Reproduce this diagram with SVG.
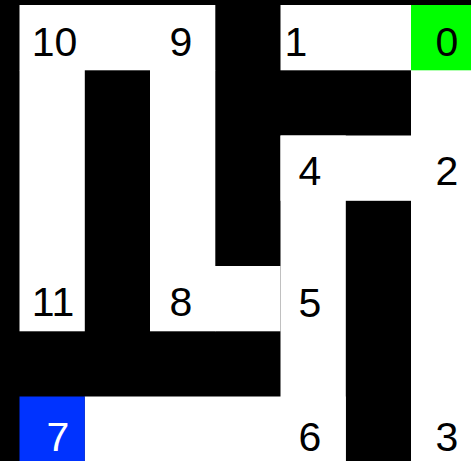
<svg xmlns="http://www.w3.org/2000/svg" width="471" height="461" viewBox="0 0 471 461">
  <style>
    .open { fill: #ffffff; }
    .lbl { font-family: "Liberation Sans", Arial, sans-serif; font-size: 41px; fill: #000000; text-anchor: middle; }
    .lbl-w { fill: #ffffff; }
  </style>
  <rect x="0" y="0" width="471" height="461" fill="#000000"/>
  <g id="open-paths">
    <rect class="open" x="19.5" y="5" width="195.8" height="65.3"/>
    <rect class="open" x="19.5" y="70" width="65.3" height="261.3"/>
    <rect class="open" x="150" y="70" width="65.3" height="261.3"/>
    <rect class="open" x="215" y="266" width="65.5" height="65.3"/>
    <rect class="open" x="280.5" y="5" width="130.7" height="65.3"/>
    <rect class="open" x="411" y="70" width="60" height="391"/>
    <rect class="open" x="280.5" y="135.5" width="131" height="65.3"/>
    <rect class="open" x="280.5" y="135.5" width="65.3" height="325.5"/>
    <rect class="open" x="84.7" y="396.5" width="261" height="64.5"/>
  </g>
  <g id="cell-0">
    <rect x="411" y="5" width="60" height="65.3" fill="#00ff00"/>
    <text class="lbl" x="447" y="56">0</text>
  </g>
  <g id="cell-1"><text class="lbl" x="296" y="56">1</text></g>
  <g id="cell-2"><text class="lbl" x="447" y="185">2</text></g>
  <g id="cell-3"><text class="lbl" x="447" y="451">3</text></g>
  <g id="cell-4"><text class="lbl" x="310" y="185">4</text></g>
  <g id="cell-5"><text class="lbl" x="310" y="317">5</text></g>
  <g id="cell-6"><text class="lbl" x="310" y="451">6</text></g>
  <g id="cell-7">
    <rect x="19.5" y="396.5" width="65.3" height="64.5" fill="#0033ff"/>
    <text class="lbl lbl-w" x="58" y="451">7</text>
  </g>
  <g id="cell-8"><text class="lbl" x="181" y="316">8</text></g>
  <g id="cell-9"><text class="lbl" x="181" y="56">9</text></g>
  <g id="cell-10"><text class="lbl" x="54.5" y="56">10</text></g>
  <g id="cell-11"><text class="lbl" x="53" y="316">11</text></g>
</svg>
